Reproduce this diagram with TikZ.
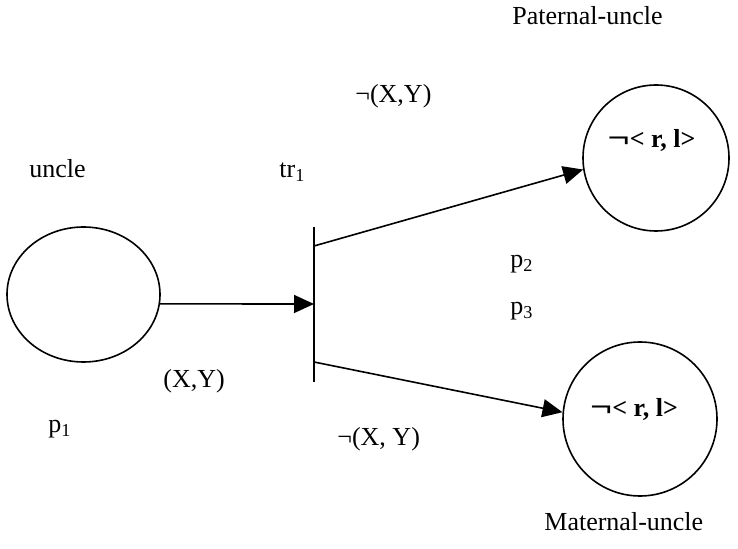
\documentclass[tikz,border=0pt]{standalone}
\usepackage{fontspec}
\usepackage{graphicx}
\setmainfont{Liberation Serif}
\usetikzlibrary{arrows.meta,shapes.geometric}
\newcommand{\bneg}{\scalebox{1.5}[1.1]{¬}}
\begin{document}
\begin{tikzpicture}[x=0.5pt,y=-0.5pt,
  every node/.style={font=\fontsize{13}{15}\selectfont},
  lbl/.style={inner sep=0pt,anchor=base west},
  inlbl/.style={inner sep=0pt,anchor=base,font=\bfseries\fontsize{13}{15}\selectfont},
  place/.style={draw,line width=0.8pt,circle,minimum size=73pt,inner sep=0pt},
  arc/.style={line width=0.8pt,-{Triangle[length=10pt,width=9pt]}},
  plain/.style={line width=0.8pt}]
\useasboundingbox (0,0) rectangle (738,549);
% places
\node[draw,line width=0.8pt,ellipse,minimum width=76.5pt,minimum height=67.5pt,inner sep=0pt] (p1) at (83.5,294.5) {};
\node[place] (c1) at (656,158) {};
\node[place,minimum size=77pt] (c2) at (640,419) {};
\node[inlbl] (t1) at (651.5,148) {\bneg< r, l>};
\node[inlbl] (t2) at (634,417) {\bneg< r, l>};
% transition bar
\coordinate (bt) at (314,227);
\coordinate (bb) at (314,382);
\coordinate (tin) at (314,304);
\coordinate (tup) at (314,246);
\coordinate (tdn) at (314,362);
\draw[plain] (bt) -- (bb);
% arcs
\draw[arc] (p1.-7.2) -- (tin);
\draw[arc] (tup) -- (c1.189);
\draw[arc] (tdn) -- (c2.175.5);
% labels
\node[lbl] (lpu) at (512,25) {Paternal-uncle};
\node[lbl] (lnxy1) at (355,103) {¬(X,Y)};
\node[lbl] (luncle) at (29,178) {uncle};
\node[lbl] (ltr) at (279,178) {tr\textsubscript{1}};
\node[lbl] (lp2) at (510,268) {p\textsubscript{2}};
\node[lbl] (lp3) at (510,315) {p\textsubscript{3}};
\node[lbl] (lxy) at (163,388) {(X,Y)};
\node[lbl] (lp1) at (48,433) {p\textsubscript{1}};
\node[lbl] (lnxy2) at (337,445) {¬(X, Y)};
\node[lbl] (lmu) at (544,530) {Maternal-uncle};
\end{tikzpicture}
\end{document}
